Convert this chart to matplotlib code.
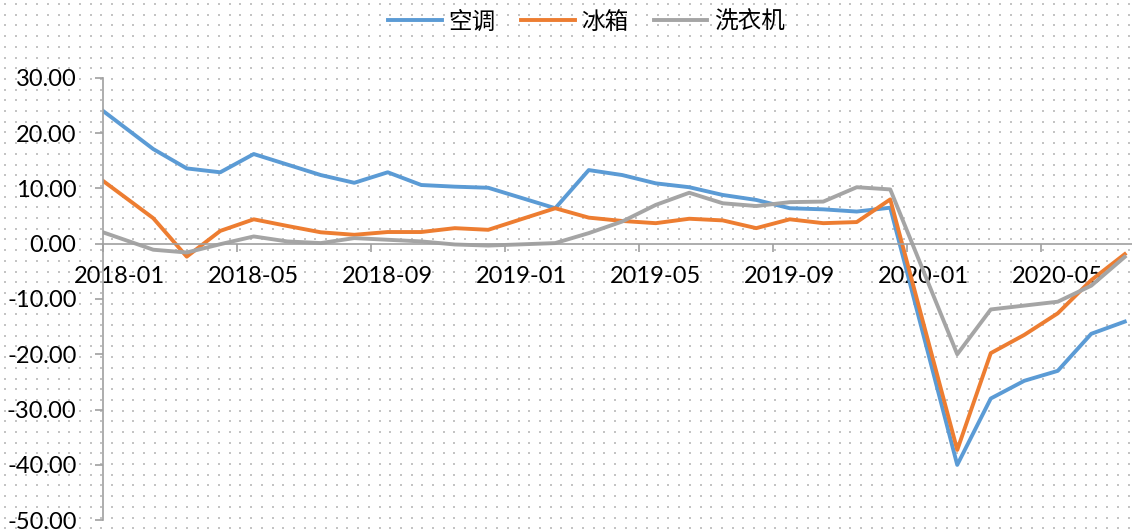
#!/usr/bin/env python3
"""Monthly YoY growth of air conditioners, fridges and washing machines."""

import numpy as np
import matplotlib
matplotlib.use("Agg")
import matplotlib.pyplot as plt

MONTHS = [
    "2017-12",
    "2018-02", "2018-03", "2018-04", "2018-05", "2018-06", "2018-07",
    "2018-08", "2018-09", "2018-10", "2018-11", "2018-12",
    "2019-02", "2019-03", "2019-04", "2019-05", "2019-06", "2019-07",
    "2019-08", "2019-09", "2019-10", "2019-11", "2019-12",
    "2020-02", "2020-03", "2020-04", "2020-05", "2020-06", "2020-07",
]
AIRCON = [
    26.3,
    17.1, 13.6, 12.9, 16.2, 14.3, 12.4, 11.0, 12.9, 10.6, 10.3, 10.1,
    6.4, 13.3, 12.4, 10.9, 10.2, 8.8, 7.9, 6.4, 6.2, 5.8, 6.5,
    -40.0, -28.0, -24.8, -23.0, -16.3, -14.1,
]
FRIDGE = [
    13.6,
    4.6, -2.35, 2.3, 4.4, 3.2, 2.05, 1.6, 2.1, 2.1, 2.8, 2.5,
    6.4, 4.7, 4.1, 3.7, 4.5, 4.2, 2.8, 4.4, 3.7, 3.9, 8.0,
    -37.3, -19.8, -16.5, -12.6, -6.6, -1.9,
]
WASHER = [
    3.1,
    -1.1, -1.6, -0.1, 1.3, 0.4, 0.1, 1.0, 0.7, 0.4, -0.15, -0.35,
    0.1, 1.9, 4.0, 7.0, 9.2, 7.3, 6.8, 7.5, 7.6, 10.2, 9.8,
    -20.0, -11.9, -11.2, -10.5, -7.6, -2.4,
]
SERIES = [("空调", AIRCON, "#5B9BD5"), ("冰箱", FRIDGE, "#ED7D31"),
          ("洗衣机", WASHER, "#A5A5A5")]
TICK_MONTHS = ["2018-01", "2018-05", "2018-09", "2019-01",
               "2019-05", "2019-09", "2020-01", "2020-05"]
Y_TICKS = [-50, -40, -30, -20, -10, 0, 10, 20, 30]

W, H = 1132, 531


def month_index(s):
    y, m = s.split("-")
    return (int(y) - 2018) * 12 + int(m) - 1


def main():
    plt.rcParams["font.family"] = ["Lato", "Noto Sans CJK SC", "DejaVu Sans"]
    fig = plt.figure(figsize=(W / 100, H / 100), dpi=100)

    # dotted pattern background
    bg = fig.add_axes([0, 0, 1, 1], zorder=-1)
    gx, gy = np.meshgrid(np.arange(5, W, 10.7), np.arange(4, H, 10.7))
    bg.scatter(gx.ravel(), gy.ravel(), s=1.3, marker="s", color="#C4C4C4",
               linewidths=0)
    bg.set_xlim(0, W)
    bg.set_ylim(H, 0)
    bg.axis("off")

    left = 103 / W
    bottom = 1 - 520.2 / H
    top = 1 - 77.7 / H
    ax = fig.add_axes([left, bottom, 1 - left, top - bottom])
    ax.patch.set_alpha(0)

    x = [month_index(m) + 0.5 for m in MONTHS]
    for label, vals, color in SERIES:
        ax.plot(x, vals, color=color, linewidth=2.8, label=label,
                solid_joinstyle="round")

    ax.set_xlim(0, (W - 103) / 33.5)
    ax.set_ylim(-50, 30)

    axis_color = "#A0A0A0"
    for side in ("top", "right"):
        ax.spines[side].set_visible(False)
    ax.spines["left"].set_color(axis_color)
    ax.spines["left"].set_linewidth(1.2)
    ax.spines["bottom"].set_color(axis_color)
    ax.spines["bottom"].set_linewidth(1.2)
    ax.spines["bottom"].set_position(("data", 0))

    ticks = [month_index(m) for m in TICK_MONTHS]
    ax.set_xticks(ticks)
    ax.set_xticklabels([])
    ax.set_xticks([t + 0.5 for t in ticks], minor=True)
    ax.set_xticklabels(TICK_MONTHS, minor=True)
    ax.tick_params(axis="x", which="major", direction="out", length=6,
                   width=1.2, color=axis_color)
    ax.tick_params(axis="x", which="minor", length=0, pad=16, labelsize=17)

    ax.set_yticks(Y_TICKS)
    ax.set_yticklabels([f"{v:.2f}" for v in Y_TICKS])
    ax.tick_params(axis="y", direction="out", length=6, width=1.2,
                   color=axis_color, pad=13, labelsize=17)

    fig.legend(loc="center", bbox_to_anchor=(586.7 / W, 1 - 22 / H), ncol=3,
               frameon=False, handlelength=2.25, handletextpad=0.28,
               columnspacing=1.1, prop={"family": "Noto Sans CJK SC",
                                        "size": 17})

    fig.savefig("out.png", dpi=100)


if __name__ == "__main__":
    main()
